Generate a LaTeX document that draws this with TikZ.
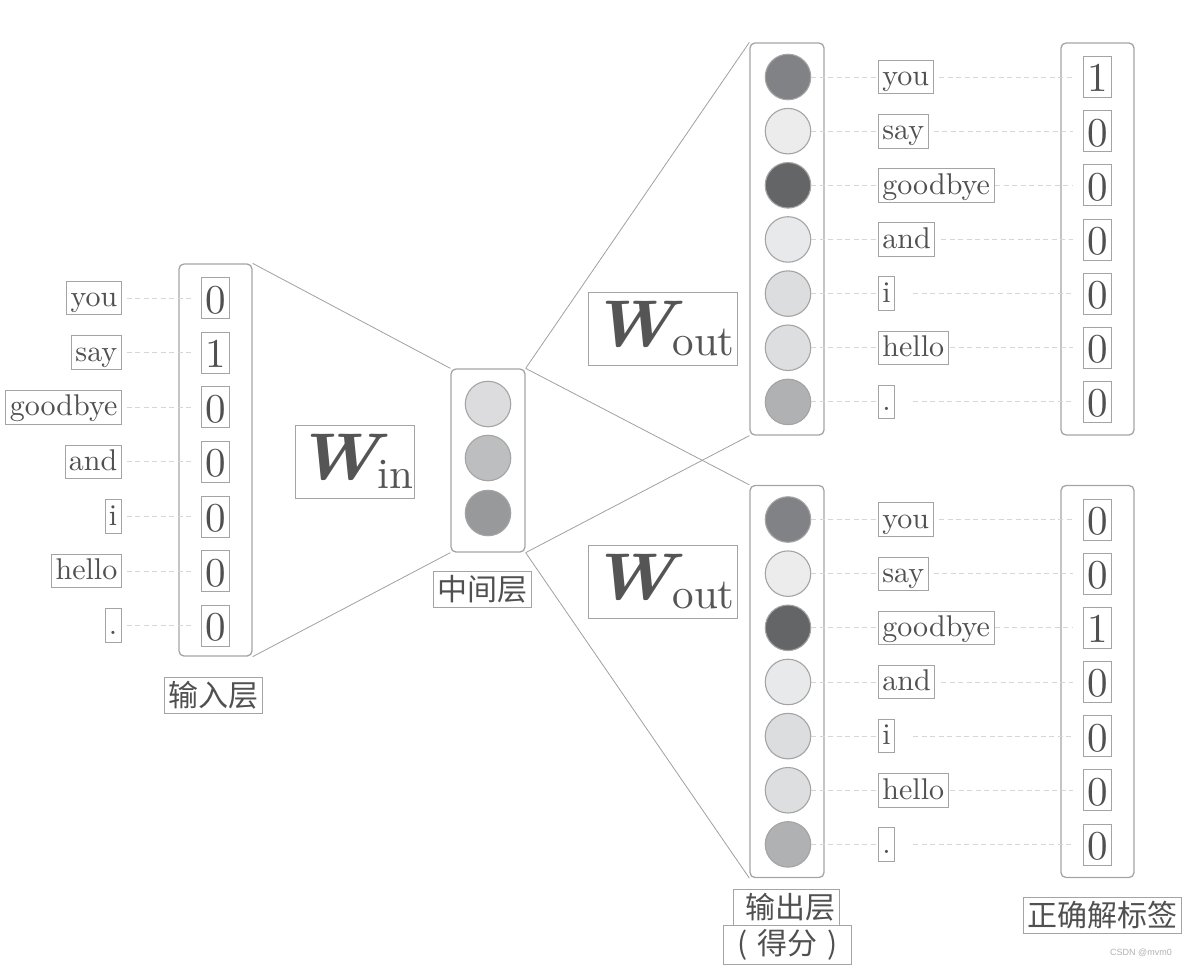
\documentclass[tikz,border=0pt]{standalone}
\usepackage{fontspec}
\setmainfont{lmroman10-regular.otf}[BoldFont=lmroman10-bold.otf, ItalicFont=lmroman10-italic.otf, BoldItalicFont=lmroman10-bolditalic.otf]
\newfontfamily\cjk{Noto Sans CJK SC}
\newfontfamily\wmfont{Liberation Sans}
\definecolor{txt}{HTML}{505050}
\definecolor{wtxt}{HTML}{555555}
\definecolor{bgray}{HTML}{A4A4A4}
\definecolor{lgray}{HTML}{A0A0A0}
\definecolor{dgray}{HTML}{D6D6D6}
\definecolor{wmgray}{HTML}{B0B0B0}
\definecolor{h1}{HTML}{DCDCDE}
\definecolor{h2}{HTML}{BDBEBF}
\definecolor{h3}{HTML}{98999B}
\definecolor{o1}{HTML}{818285}
\definecolor{o2}{HTML}{EBECEB}
\definecolor{o3}{HTML}{646567}
\definecolor{o4}{HTML}{E8E9EA}
\definecolor{o5}{HTML}{DCDDDF}
\definecolor{o6}{HTML}{DDDEE0}
\definecolor{o7}{HTML}{B0B1B3}
\newcommand{\wlab}[1]{{\fontsize{66}{70}\selectfont\bfseries\itshape\scalebox{1.1}[1]{W}}\kern-2pt\raisebox{-9pt}{\fontsize{43}{48}\selectfont #1}}
\begin{document}
\begin{tikzpicture}[x=1pt,y=-1pt,
  every node/.style={text=txt},
  word/.style={draw=bgray, line width=0.8pt, inner xsep=4pt, inner ysep=1.5pt,
    font=\fontsize{30}{36}\selectfont, text height=24pt, text depth=6.5pt},
  digit/.style={draw=bgray, line width=0.8pt, inner xsep=4pt, inner ysep=5.5pt,
    font=\fontsize{41}{48}\selectfont, text height=30pt, text depth=0pt},
  layerbox/.style={draw=bgray, line width=1.3pt, rounded corners=5pt, inner sep=0pt},
  unit/.style={circle, draw=bgray, line width=1.1pt, inner sep=0pt, minimum size=45.5pt},
  cjklabel/.style={draw=bgray, line width=0.8pt, inner sep=4pt,
    font=\cjk\fontsize{30}{34}\selectfont},
  wbox/.style={draw=bgray, line width=0.8pt, inner sep=0pt, minimum height=73pt, text=wtxt},
  link/.style={draw=lgray, line width=0.8pt},
  guide/.style={draw=dgray, line width=0.9pt, dash pattern=on 5pt off 3.5pt}
]
\useasboundingbox (0,0) rectangle (1188,966);

% ---------- layer boxes ----------
\node[layerbox, minimum width=73pt, minimum height=392pt] (inbox) at (215.5,460) {};
\node[layerbox, minimum width=74pt, minimum height=183pt] (midbox) at (488,460.5) {};
\node[layerbox, minimum width=74pt, minimum height=392pt] (outA) at (787,239) {};
\node[layerbox, minimum width=74pt, minimum height=392pt] (outB) at (787,681.5) {};
\node[layerbox, minimum width=73pt, minimum height=392pt] (labA) at (1097.5,239) {};
\node[layerbox, minimum width=73pt, minimum height=392pt] (labB) at (1097.5,681.5) {};

% ---------- connectors between layers ----------
\draw[link] (inbox.north east) -- (midbox.north west);
\draw[link] (inbox.south east) -- (midbox.south west);
\draw[link] (midbox.north east) -- (outA.north west);
\draw[link] (midbox.north east) -- (outB.north west);
\draw[link] (midbox.south east) -- (outA.south west);
\draw[link] (midbox.south east) -- (outB.south west);

% ---------- input layer ----------
\foreach \w/\d [count=\i from 0] in {you/0,say/1,goodbye/0,and/0,i/0,hello/0,./0}{
  \node[word, anchor=east] (inw\i) at (121.7,298+54.6*\i) {\w};
  \node[digit] (ind\i) at (215.5,298+54.6*\i) {\d};
  \draw[guide, shorten <=5pt, shorten >=9pt] (inw\i.east) -- (ind\i.west);
}

% ---------- hidden layer ----------
\node[unit, fill=h1] (h0) at (488,404) {};
\node[unit, fill=h2] (h1) at (488,458) {};
\node[unit, fill=h3] (h2) at (488,513) {};

% ---------- output layers ----------
\foreach \w/\s/\c/\da/\db [count=\i from 0] in
  {you/6/o1/1/0, say/5/o2/0/0, goodbye/1/o3/0/1, and/6/o4/0/0,
   i/18/o5/0/0, hello/2/o6/0/0, ./18/o7/0/0}{
  % upper block
  \node[unit, fill=\c] (ua\i) at (788,77+54.15*\i) {};
  \node[word, anchor=west] (wa\i) at (878,77+54.15*\i) {\w};
  \node[digit] (da\i) at (1097.4,77+54.15*\i) {\da};
  \draw[guide] (ua\i.east) -- (wa\i.west);
  \draw[guide, shorten <=\s pt, shorten >=10pt] (wa\i.east) -- (da\i.west);
  % lower block
  \node[unit, fill=\c] (ub\i) at (788,519.5+54.15*\i) {};
  \node[word, anchor=west] (wb\i) at (878,519.5+54.15*\i) {\w};
  \node[digit] (db\i) at (1097.4,519.5+54.15*\i) {\db};
  \draw[guide] (ub\i.east) -- (wb\i.west);
  \draw[guide, shorten <=\s pt, shorten >=10pt] (wb\i.east) -- (db\i.west);
}

% ---------- weight labels ----------
\node[wbox, minimum width=119pt] (win) at (354.5,461.5) {\wlab{in}};
\node[wbox, minimum width=149pt] (woutA) at (662.5,328.5) {\wlab{out}};
\node[wbox, minimum width=149pt] (woutB) at (662.5,582) {\wlab{out}};

% ---------- captions ----------
\node[cjklabel] (capin) at (213,695) {输入层};
\node[cjklabel] (capmid) at (482,589.5) {中间层};
\node[cjklabel] (capout) at (786.5,907) {\hspace{8pt}输出层};
\node[cjklabel] (capscore) at (787.5,944.5) {\makebox[30pt]{(}得分\makebox[30pt]{)}};
\node[cjklabel] (caplab) at (1102,915) {正确解标签};
\node[text=wmgray, font=\wmfont\fontsize{9}{10}\selectfont] (wm) at (1141,953) {CSDN @mvm0};
\end{tikzpicture}
\end{document}
